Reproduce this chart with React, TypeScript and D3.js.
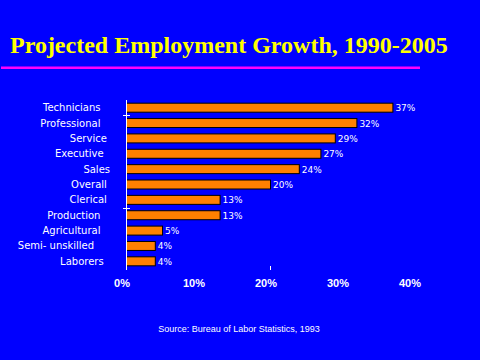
import React from "react";
import * as d3 from "d3";

const categories = [
  "Technicians   ",
  "Professional   ",
  "Service ",
  "Executive  ",
  "Sales",
  "Overall ",
  "Clerical ",
  "Production   ",
  "Agricultural   ",
  "Semi- unskilled     ",
  "Laborers  ",
];
const values = [37, 32, 29, 27, 24, 20, 13, 13, 5, 4, 4];
const xTicks = [0, 10, 20, 30, 40];
const title = "Projected Employment Growth, 1990-2005";
const source = "Source: Bureau of Labor Statistics, 1993";

export default function App() {
  const W = 480;
  const H = 360;
  const x = d3.scaleLinear().domain([0, 40]).range([126, 414]);
  const y = d3
    .scaleBand<string>()
    .domain(categories)
    .range([100, 269])
    .paddingInner(0.35)
    .paddingOuter(0.175);
  const step = y.step();
  const boundaryIdx = [1, 7];

  return (
    <svg
      width={W}
      height={H}
      style={{ position: "absolute", left: 0, top: 0, display: "block" }}
    >
      <rect x={0} y={0} width={W} height={H} fill="#0000ff" />
      <text
        x={10}
        y={53}
        fill="#ffff00"
        fontFamily="'Liberation Serif', 'Times New Roman', serif"
        fontWeight="bold"
        fontSize={24}
      >
        {title}
      </text>
      <rect x={1} y={66.5} width={419} height={2.5} fill="#ff00ff" />

      {categories.map((c, i) => (
        <g key={c}>
          <rect
            x={x(0) + 0.5}
            y={(y(c) as number) + 0.5}
            width={x(values[i]) - x(0)}
            height={y.bandwidth() - 1}
            fill="#ff8000"
            stroke="#000000"
            strokeWidth={1}
          />
          <text
            x={x(values[i]) + 3}
            y={(y(c) as number) + y.bandwidth() / 2 + 3.5}
            fill="#ffffff"
            fontFamily="'DejaVu Sans', sans-serif"
            fontSize={9}
          >
            {values[i] + "%"}
          </text>
          <text
            x={110}
            y={(y(c) as number) + y.bandwidth() / 2 + 3.5}
            fill="#ffffff"
            fontFamily="'DejaVu Sans', sans-serif"
            fontSize={10}
            textAnchor="end"
            style={{ whiteSpace: "pre" }}
            xmlSpace="preserve"
          >
            {c}
          </text>
        </g>
      ))}

      <line x1={126.5} x2={126.5} y1={100} y2={270} stroke="#ffffff" strokeWidth={1} />
      {boundaryIdx.map((b) => {
        const yy = Math.round((y(categories[b]) as number) - (step - y.bandwidth()) / 2) + 0.5;
        return (
          <line key={b} x1={123} x2={130} y1={yy} y2={yy} stroke="#ffffff" strokeWidth={1} />
        );
      })}
      <line x1={x(20) + 0.5} x2={x(20) + 0.5} y1={266} y2={270} stroke="#ffffff" strokeWidth={1} />

      {xTicks.map((t) => (
        <text
          key={t}
          x={x(t) - 4}
          y={287}
          fill="#ffffff"
          fontFamily="'Liberation Sans', Arial, sans-serif"
          fontWeight="bold"
          fontSize={11}
          textAnchor="middle"
        >
          {t + "%"}
        </text>
      ))}

      <text
        x={239}
        y={332}
        fill="#ffffff"
        fontFamily="'Liberation Sans', Arial, sans-serif"
        fontSize={9}
        textAnchor="middle"
      >
        {source}
      </text>
    </svg>
  );
}
